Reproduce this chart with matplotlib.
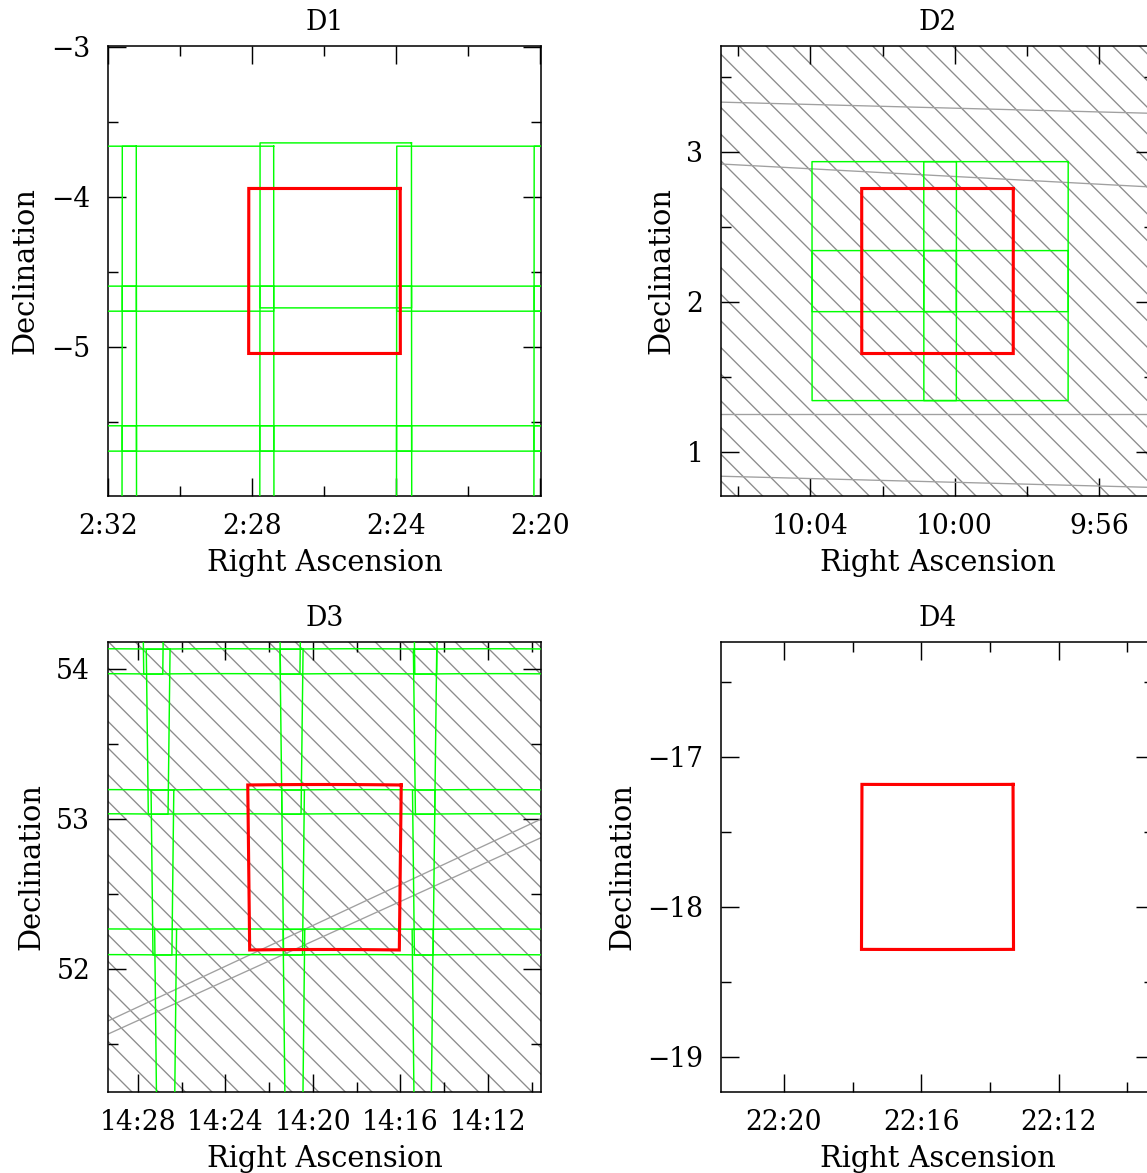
import numpy as np
import matplotlib
matplotlib.use('Agg')
import matplotlib.pyplot as plt
from matplotlib.patches import Polygon
from matplotlib.ticker import MultipleLocator, FuncFormatter

plt.rcParams['font.family'] = ['DejaVu Serif']
plt.rcParams['font.size'] = 11
plt.rcParams['hatch.color'] = '#8c8c8c'
plt.rcParams['hatch.linewidth'] = 0.6

# deep field centres: RA in minutes of time, Dec in degrees
field_names = ['D1', 'D2', 'D3', 'D4']
field_ra = [145.983, 600.477, 859.467, 1335.528]
field_dec = [-4.494, 2.206, 52.678, -17.735]

# wide pointings around D1 (centres, RA in min, Dec in deg)
d1_tile_ra = [153.32, 149.50, 145.67, 141.87, 138.05,
              153.32, 149.50, 145.67, 141.87, 138.05,
              153.32, 149.50, 145.67, 141.87, 138.05]
d1_tile_dec = [-4.212, -4.212, -4.190, -4.212, -4.212,
               -5.145, -5.145, -5.145, -5.145, -5.145,
               -6.076, -6.076, -6.076, -6.076, -6.076]

# pointings around D2 (smaller 1x1 deg footprint)
d2_tile_ra = [601.955, 598.855, 601.955, 598.855]
d2_tile_dec = [2.435, 2.435, 1.842, 1.842]

# wide pointings around D3
d3_tile_ra = [870.43, 864.16, 857.91, 851.77,
              870.11, 864.03, 857.92, 851.82,
              869.86, 863.89, 857.92, 851.94,
              869.66, 863.80, 857.93, 852.03]
d3_tile_dec = [54.517, 54.517, 54.517, 54.517,
               53.583, 53.583, 53.583, 53.583,
               52.644, 52.644, 52.644, 52.644,
               51.715, 51.715, 51.715, 51.715]

# boundaries of the hatched coverage stripes (Dec at the two RA ends)
d2_edge_ra = [607.0, 594.0]
d2_edges = [(3.335, 3.254), (2.926, 2.759), (1.251, 1.251), (0.841, 0.760)]
d3_edge_ra = [870.0, 849.0]
d3_edges = [(51.608, 53.036), (51.522, 52.911)]

tiles = {'D1': (d1_tile_ra, d1_tile_dec, 1.05, 1.10),
         'D2': (d2_tile_ra, d2_tile_dec, 1.00, 1.00),
         'D3': (d3_tile_ra, d3_tile_dec, 1.05, 1.10)}
stripes = {'D2': (d2_edge_ra, d2_edges), 'D3': (d3_edge_ra, d3_edges)}


def footprint(ra0, dec0, width, height, n=30):
    # outline of a width x height (deg) tangent-plane box centred on ra0 (min), dec0 (deg)
    hw, hh = np.radians(width / 2), np.radians(height / 2)
    t = np.linspace(-1, 1, n)
    xi = np.concatenate([t * hw, np.full(n, hw), -t * hw, np.full(n, -hw)])
    eta = np.concatenate([np.full(n, hh), -t * hh, np.full(n, -hh), t * hh])
    d0 = np.radians(dec0)
    den = np.cos(d0) - eta * np.sin(d0)
    ra = ra0 + np.degrees(np.arctan2(xi, den)) * 4.0
    dec = np.degrees(np.arctan2(np.sin(d0) + eta * np.cos(d0), np.hypot(xi, den)))
    return np.append(ra, ra[0]), np.append(dec, dec[0])


def hm(v, pos):
    m = int(round(v))
    return '%d:%02d' % (m // 60, m % 60)


W, H = 1147, 1173
fig = plt.figure(figsize=(W / 160, H / 160), dpi=160)
corners = [(108, 46), (721, 46), (108, 642), (721, 642)]

for i, name in enumerate(field_names):
    left, top = corners[i]
    ax = fig.add_axes([left / W, 1 - (top + 450) / H, 433 / W, 450 / H])
    ra0, dec0 = field_ra[i], field_dec[i]
    half = 1.5 / np.cos(np.radians(dec0)) * 4.0
    ax.set_xlim(ra0 + half, ra0 - half)
    ax.set_ylim(dec0 - 1.5, dec0 + 1.5)

    # hatched coverage
    if name in stripes:
        era, edges = stripes[name]
        bounds = [(dec0 + 3, dec0 + 3)] + edges + [(dec0 - 3, dec0 - 3)]
        for k in range(len(bounds) - 1):
            verts = [(era[0], bounds[k][0]), (era[1], bounds[k][1]),
                     (era[1], bounds[k + 1][1]), (era[0], bounds[k + 1][0])]
            ax.add_patch(Polygon(verts, closed=True, facecolor='none',
                                 edgecolor='#8c8c8c', hatch='\\\\', lw=0, zorder=1))
        for e in edges:
            ax.plot(era, e, color='#a0a0a0', lw=0.6, zorder=2)

    # survey pointings
    if name in tiles:
        tra, tdec, tw, th = tiles[name]
        for r, d in zip(tra, tdec):
            x, y = footprint(r, d, tw, th)
            ax.plot(x, y, color='#00ff00', lw=0.65, zorder=4)

    # deep field
    x, y = footprint(ra0, dec0, 1.05, 1.10)
    ax.plot(x, y, color='#ff0000', lw=1.4, zorder=5, solid_joinstyle='miter')

    ax.xaxis.set_major_locator(MultipleLocator(4))
    ax.xaxis.set_minor_locator(MultipleLocator(2))
    ax.yaxis.set_major_locator(MultipleLocator(1))
    ax.yaxis.set_minor_locator(MultipleLocator(0.5))
    ax.xaxis.set_major_formatter(FuncFormatter(hm))
    ax.tick_params(which='both', direction='in', top=True, right=True, width=0.65,
                   color='black', labelsize=12)
    ax.tick_params(which='major', length=8)
    ax.tick_params(which='minor', length=4.5)
    ax.tick_params(axis='x', pad=7.5)
    ax.tick_params(axis='y', pad=8)
    for s in ax.spines.values():
        s.set_linewidth(0.7)

    ax.set_title(name, pad=7, fontsize=12)
    ax.set_xlabel('Right Ascension', labelpad=4, fontsize=13)
    ax.set_ylabel('Declination', labelpad=5, fontsize=13)

fig.savefig('out.png', dpi=160)
